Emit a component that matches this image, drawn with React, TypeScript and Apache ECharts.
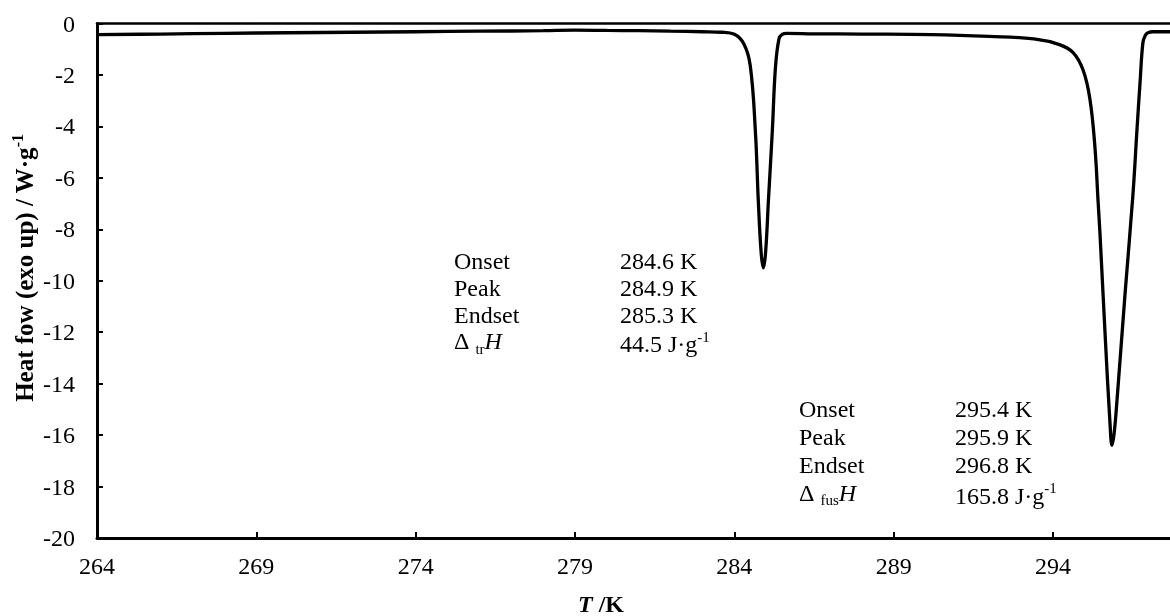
import React, { useEffect, useRef } from "react";
import * as echarts from "echarts";

const temperature = [264, 266, 268, 270, 272, 274, 276, 278, 279, 280, 281, 282, 283, 283.6, 284.0, 284.3, 284.5, 284.66, 284.75, 284.84, 284.91, 284.98, 285.07, 285.19, 285.29, 285.4, 285.5, 285.65, 286.5, 288, 290.2, 292, 293.4, 294.2, 294.63, 294.94, 295.16, 295.32, 295.41, 295.47, 295.63, 295.79, 295.85, 295.92, 296.01, 296.26, 296.51, 296.63, 296.73, 296.82, 296.9, 296.98, 297.13, 297.4, 297.67];
const heatFlow = [-0.43, -0.41, -0.38, -0.36, -0.34, -0.32, -0.3, -0.28, -0.26, -0.27, -0.28, -0.3, -0.32, -0.34, -0.42, -0.8, -1.65, -4.2, -6.85, -8.9, -9.5, -8.9, -6.85, -4.2, -1.7, -0.6, -0.42, -0.38, -0.4, -0.41, -0.43, -0.5, -0.6, -0.82, -1.13, -1.8, -2.96, -4.9, -6.85, -8.1, -12, -15.6, -16.4, -15.9, -14.6, -10.5, -6.6, -4.2, -2.3, -0.75, -0.45, -0.36, -0.32, -0.32, -0.32];

const xMin = 264;
const xMax = 297.67;
const xStep = 5;
const yMin = -20;
const yMax = 0;
const yStep = 2;

const rowLabels = ["Onset", "Peak", "Endset", "Δ"];
const trSub = "tr";
const fusSub = "fus";
const trValues = ["284.6 K", "284.9 K", "285.3 K", "44.5 J·g"];
const fusValues = ["295.4 K", "295.9 K", "296.8 K", "165.8 J·g"];

const FONT = "Liberation Serif";

function rich() {
  return {
    n: { fontFamily: FONT, fontSize: 24, fill: "#000" },
    i: { fontFamily: FONT, fontSize: 24, fontStyle: "italic", fill: "#000" },
    sub: { fontFamily: FONT, fontSize: 15, fill: "#000", verticalAlign: "bottom", lineHeight: 30 },
    sup: { fontFamily: FONT, fontSize: 15, fill: "#000", verticalAlign: "top", lineHeight: 30 },
  };
}

function block(x1: number, x2: number, ys: number[], values: string[], sub: string) {
  const els: any[] = [];
  rowLabels.forEach((lab, k) => {
    const isDelta = k === 3;
    els.push({
      type: "text",
      left: x1,
      top: ys[k] - 15,
      style: {
        text: isDelta ? `{n|${lab} }{sub|${sub}}{i|H}` : `{n|${lab}}`,
        rich: rich(),
        fontFamily: FONT,
        fontSize: 24,
        fill: "#000",
      },
    });
    els.push({
      type: "text",
      left: x2,
      top: ys[k] - 15,
      style: {
        text: isDelta ? `{n|${values[k]}}{sup|-1}` : `{n|${values[k]}}`,
        rich: rich(),
        fontFamily: FONT,
        fontSize: 24,
        fill: "#000",
      },
    });
  });
  return els;
}

export default function App() {
  const ref = useRef<HTMLDivElement>(null);
  useEffect(() => {
    const chart = echarts.init(ref.current!, null, { renderer: "svg" });
    const data = temperature.map((t, i) => [t, heatFlow[i]]);
    chart.setOption({
      animation: false,
      grid: { left: 97, top: 23.5, width: 1073, height: 514.5 },
      xAxis: [
        {
          type: "value",
          min: xMin,
          max: xMax,
          interval: xStep,
          axisLine: { onZero: false, lineStyle: { color: "#000", width: 3 } },
          axisTick: { inside: true, length: 6, lineStyle: { color: "#000", width: 2 } },
          axisLabel: { showMaxLabel: false, margin: 16, fontFamily: FONT, fontSize: 24, color: "#000", formatter: (v: number) => String(Math.round(v)) },
          splitLine: { show: false },
        },
        {
          type: "value",
          position: "top",
          min: xMin,
          max: xMax,
          axisLine: { onZero: false, lineStyle: { color: "#000", width: 2.5 } },
          axisTick: { show: false },
          axisLabel: { show: false },
          splitLine: { show: false },
        },
      ],
      yAxis: {
        type: "value",
        min: yMin,
        max: yMax,
        interval: yStep,
        axisLine: { show: true, onZero: false, lineStyle: { color: "#000", width: 3 } },
        axisTick: { show: true, inside: true, length: 6, lineStyle: { color: "#000", width: 2 } },
        axisLabel: { margin: 22, fontFamily: FONT, fontSize: 24, color: "#000" },
        splitLine: { show: false },
      },
      series: [
        {
          type: "line",
          data,
          showSymbol: false,
          smooth: 0.4,
          lineStyle: { color: "#000", width: 3.3 },
        },
      ],
      graphic: [
        {
          type: "text",
          x: 24,
          y: 268,
          rotation: Math.PI / 2,
          style: {
            text: "{b|Heat fow (exo up) / W·g}{s|-1}",
            rich: {
              b: { fontFamily: FONT, fontSize: 25, fontWeight: "bold", fill: "#000", lineHeight: 30 },
              s: { fontFamily: FONT, fontSize: 16, fontWeight: "bold", fill: "#000", verticalAlign: "top", lineHeight: 30 },
            },
            fontFamily: FONT,
            fontSize: 25,
            fill: "#000",
            align: "center",
            verticalAlign: "middle",
          },
        },
        {
          type: "text",
          x: 601,
          y: 603.5,
          style: {
            text: "{bi|T} {b|/K}",
            rich: {
              bi: { fontFamily: FONT, fontSize: 24, fontWeight: "bold", fontStyle: "italic", fill: "#000" },
              b: { fontFamily: FONT, fontSize: 24, fontWeight: "bold", fill: "#000" },
            },
            fontFamily: FONT,
            fontSize: 24,
            fill: "#000",
            align: "center",
            verticalAlign: "middle",
          },
        },
        ...block(454, 620, [263.5, 290.5, 317.5, 344], trValues, trSub),
        ...block(799, 955, [411.5, 440, 468, 495.5], fusValues, fusSub),
      ],
    });
    return () => chart.dispose();
  }, []);
  return <div ref={ref} style={{ position: "fixed", left: 0, top: 0, width: 1170, height: 616 }} />;
}
